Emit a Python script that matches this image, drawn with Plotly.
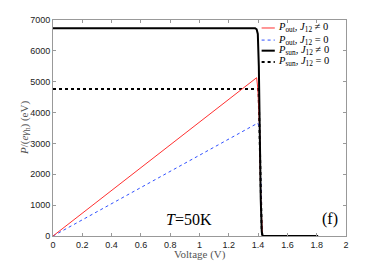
import plotly.graph_objects as go

v_out1 = [0, 1.39, 1.398, 1.41, 1.418, 1.425, 1.43]
p_out1 = [0, 5130, 4780, 3500, 1200, 150, 0]
v_out0 = [0, 1.398, 1.41, 1.418, 1.425, 1.43]
p_out0 = [0, 3660, 3500, 1200, 150, 0]
v_sun1 = [0, 1.38, 1.39, 1.398, 1.405, 1.41, 1.418, 1.425, 1.43, 1.81]
p_sun1 = [6730, 6730, 6700, 6550, 5500, 3500, 1200, 150, 0, 0]
v_sun0 = [0, 1.40, 1.404, 1.41, 1.418, 1.425, 1.43]
p_sun0 = [4760, 4760, 4600, 3500, 1200, 150, 0]

names = ["<i>P</i><sub>out</sub>, <i>J</i><sub>12</sub> ≠ 0",
         "<i>P</i><sub>out</sub>, <i>J</i><sub>12</sub> = 0",
         "<i>P</i><sub>sun</sub>, <i>J</i><sub>12</sub> ≠ 0",
         "<i>P</i><sub>sun</sub>, <i>J</i><sub>12</sub> = 0"]
styles = [dict(color="#ff3030", width=1),
          dict(color="#3050ff", width=1, dash="dot"),
          dict(color="black", width=2),
          dict(color="black", width=2, dash="dot")]
xs = [v_out1, v_out0, v_sun1, v_sun0]
ys = [p_out1, p_out0, p_sun1, p_sun0]
order = [3, 1, 0, 2]  # draw black solid on top

fig = go.Figure()
for i in order:
    fig.add_trace(go.Scatter(x=xs[i], y=ys[i], mode="lines", line=styles[i], name=names[i], showlegend=False))

# manual compact legend (paper coordinates)
leg_y = [0.963, 0.907, 0.858, 0.806]
for n, s, yy in zip(names, styles, leg_y):
    fig.add_shape(type="line", xref="paper", yref="paper", x0=0.712, x1=0.757, y0=yy, y1=yy,
                  line=s)
    fig.add_annotation(xref="paper", yref="paper", x=0.762, y=yy, text=n, showarrow=False,
                       xanchor="left", yanchor="middle",
                       font=dict(family="Liberation Serif", size=10.5, color="black"))

axis_common = dict(showline=True, linecolor="#999999", linewidth=1, mirror="ticks", ticks="inside",
                   ticklen=3, tickcolor="#999999", showgrid=False, zeroline=False, automargin=False,
                   tickfont=dict(family="Liberation Sans", size=9, color="#222222"))
fig.update_xaxes(range=[0, 2], dtick=0.2, tickformat="~g", **axis_common)
fig.update_yaxes(range=[0, 7000], dtick=1000, **axis_common)

fig.add_annotation(xref="paper", yref="paper", x=0.5, y=0, yshift=-18, xanchor="center", yanchor="middle",
                   text="Voltage (V)", showarrow=False,
                   font=dict(family="Liberation Serif", size=11, color="#555555"))
fig.add_annotation(xref="paper", yref="paper", x=0, y=0.5, xshift=-28, xanchor="center", yanchor="middle",
                   textangle=-90, text="<i>P</i>/(<i>eγ</i><sub>h</sub>) (eV)", showarrow=False,
                   font=dict(family="Liberation Serif", size=11, color="#555555"))

fig.add_annotation(x=0.93, y=540, text="<i>T</i>=50K", showarrow=False,
                   font=dict(family="Liberation Serif", size=16, color="black"))
fig.add_annotation(x=1.89, y=540, text="(f)", showarrow=False,
                   font=dict(family="Liberation Serif", size=16, color="black"))

# page body has an 8px default margin, so the figure is offset by 8px
fig.update_layout(width=366, height=258, margin=dict(l=45, r=28, t=12, b=30),
                  paper_bgcolor="white", plot_bgcolor="white", showlegend=False)

fig.write_html("out.html")
